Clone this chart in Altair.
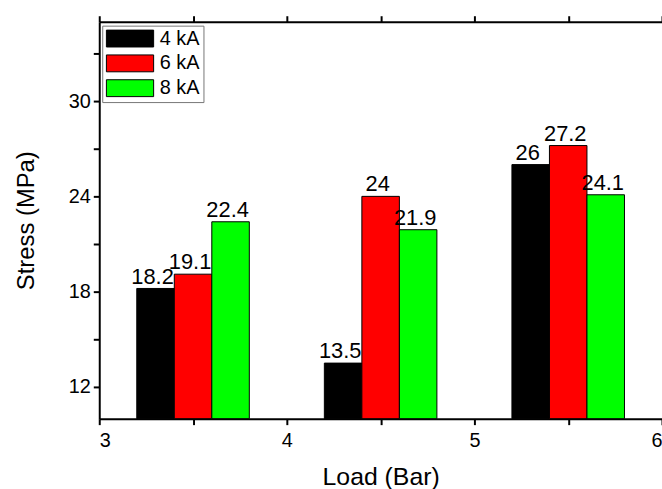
import altair as alt
import pandas as pd

# Stress measured at three loads for three welding currents
loads = [3.5, 4.5, 5.5]
currents = ["4 kA", "6 kA", "8 kA"]
stress_4ka = [18.2, 13.5, 26.0]
stress_6ka = [19.1, 24.0, 27.2]
stress_8ka = [22.4, 21.9, 24.1]
labels_4ka = ["18.2", "13.5", "26"]
labels_6ka = ["19.1", "24", "27.2"]
labels_8ka = ["22.4", "21.9", "24.1"]
colors = ["#000000", "#ff0000", "#00ff00"]

bar_w = 0.2
offsets = [-1, 0, 1]

rows = []
series = [(stress_4ka, labels_4ka), (stress_6ka, labels_6ka), (stress_8ka, labels_8ka)]
for ci, (cur, (vals, labs)) in enumerate(zip(currents, series)):
    for load, v, lab in zip(loads, vals, labs):
        c = load + offsets[ci] * bar_w
        rows.append({"current": cur, "x0": c - bar_w / 2, "x1": c + bar_w / 2,
                     "xc": c, "stress": v, "label": lab, "base": 10})
df = pd.DataFrame(rows)

FONT = "Liberation Sans"
x_scale = alt.Scale(domain=[3, 6], nice=False, zero=False)
y_scale = alt.Scale(domain=[10, 35], nice=False, zero=False)

x_ticks = [3, 3.5, 4, 4.5, 5, 5.5, 6]
y_ticks = [12, 15, 18, 21, 24, 27, 30, 33]

y_axis = alt.Axis(title="Stress (MPa)", values=y_ticks,
                  labelExpr="datum.value % 6 == 0 ? format(datum.value, 'd') : ''",
                  grid=False, tickSize=6, labelPadding=3,
                  titlePadding=30, titleFontSize=24)

base = alt.Chart(df)

bars = base.mark_bar(stroke="black", strokeWidth=1).encode(
    x=alt.X("x0:Q", scale=x_scale,
            axis=alt.Axis(title="Load (Bar)", values=x_ticks,
                          labelExpr="datum.value % 1 == 0 ? format(datum.value, 'd') : ''",
                          grid=False, tickSize=6, labelPadding=6,
                          titlePadding=14, titleFontSize=25)),
    x2="x1:Q",
    y=alt.Y("stress:Q", scale=y_scale, axis=y_axis),
    y2="base:Q",
    color=alt.Color("current:N",
                    scale=alt.Scale(domain=currents, range=colors),
                    legend=alt.Legend(title=None, orient="none", legendX=3, legendY=4,
                                      symbolType="M-2.8,-1H2.8V1H-2.8Z",
                                      symbolSize=289, symbolOffset=15,
                                      symbolStrokeColor="black", symbolStrokeWidth=1,
                                      symbolOpacity=1,
                                      labelOffset=20, labelFontSize=20, labelFont=FONT,
                                      labelColor="black",
                                      rowPadding=3, padding=3,
                                      strokeColor="#777777", fillColor="white")),
)

text = base.mark_text(fontSize=22, font=FONT, baseline="bottom", dx=-3, color="black").encode(
    x=alt.X("xc:Q", scale=x_scale, axis=None),
    y=alt.Y("stress:Q", scale=y_scale, axis=y_axis),
    text="label:N",
)

# top frame line with outward ticks, no labels
top = base.mark_rule(opacity=0).encode(
    x=alt.X("xc:Q", scale=x_scale,
            axis=alt.Axis(orient="top", values=x_ticks, labels=False, title=None,
                          grid=False, tickSize=6)),
)

chart = alt.layer(bars, text, top).resolve_axis(x="independent").properties(
    width=567, height=400,
    autosize=alt.AutoSizeParams(type="none"),
    padding={"left": 100, "top": 20, "right": 0, "bottom": 69},
).configure_view(stroke=None).configure_axis(
    labelFont=FONT, titleFont=FONT, labelFontSize=20,
    labelColor="black", titleColor="black", titleFontWeight="normal",
    domainColor="black", tickColor="black", domainWidth=2, tickWidth=2,
)

chart.save("out.html", embed_options={"renderer": "svg", "actions": False})
